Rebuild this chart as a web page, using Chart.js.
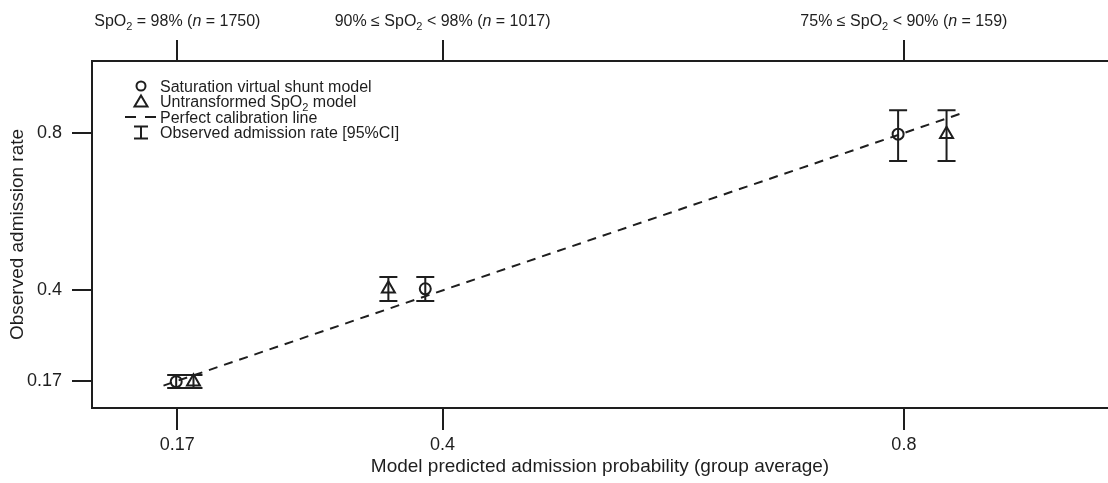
<!DOCTYPE html>
<html>
<head>
<meta charset="utf-8">
<script src="https://cdn.jsdelivr.net/npm/chart.js@4.4.0/dist/chart.umd.min.js"></script>
<style>
html, body { margin: 0; padding: 0; background: #fff; }
#wrap { width: 1108px; height: 483px; }
</style>
</head>
<body>
<div id="wrap"><canvas id="calibrationChart"></canvas></div>
<script>
// values
const tickValues = [0.17, 0.4, 0.8];
const tickLabels = ['0.17', '0.4', '0.8'];
const groupLabels = ['SpO{2} = 98% (*n* = 1750)', '90% ≤ SpO{2} < 98% (*n* = 1017)', '75% ≤ SpO{2} < 90% (*n* = 159)'];
const shuntPredicted = [0.169, 0.385, 0.795];
const untransformedPredicted = [0.184, 0.353, 0.837];
const observedRate = [0.168, 0.404, 0.797];
const ciLower = [0.152, 0.373, 0.729];
const ciUpper = [0.185, 0.434, 0.858];
const perfectLine = [0.158, 0.85];
const legendLabels = ['Saturation virtual shunt model', 'Untransformed SpO{2} model', 'Perfect calibration line', 'Observed admission rate [95%CI]'];

const ink = '#1e1e1e';
const family = '"Liberation Sans", Arial, Helvetica, sans-serif';

// small rich text helper: {..} = subscript, *..* = italic
function parseRich(s) {
    const segs = [];
    const re = /\{([^}]*)\}|\*([^*]*)\*|([^{*]+)/g;
    let m;
    while ((m = re.exec(s))) {
        if (m[1] !== undefined) segs.push({ t: m[1], sub: true });
        else if (m[2] !== undefined) segs.push({ t: m[2], it: true });
        else segs.push({ t: m[3] });
    }
    return segs;
}

function drawRich(ctx, s, x, y, size, align) {
    const segs = parseRich(s);
    const fontOf = g => (g.it ? 'italic ' : '') + (g.sub ? Math.round(size * 0.7) : size) + 'px ' + family;
    let w = 0;
    segs.forEach(g => { ctx.font = fontOf(g); g.w = ctx.measureText(g.t).width; w += g.w; });
    let cx = align === 'center' ? x - w / 2 : x;
    ctx.textAlign = 'left';
    ctx.textBaseline = 'alphabetic';
    segs.forEach(g => {
        ctx.font = fontOf(g);
        ctx.fillText(g.t, cx, g.sub ? y + size * 0.28 : y);
        cx += g.w;
    });
}

// error bars for both models
const errorBars = {
    id: 'errorBars',
    afterDatasetsDraw(chart) {
        const { ctx, scales: { x, y } } = chart;
        ctx.save();
        ctx.strokeStyle = ink;
        ctx.lineWidth = 2;
        [shuntPredicted, untransformedPredicted].forEach(xs => xs.forEach((v, i) => {
            const px = x.getPixelForValue(v);
            const lo = y.getPixelForValue(ciLower[i]);
            const hi = y.getPixelForValue(ciUpper[i]);
            ctx.beginPath();
            ctx.moveTo(px, lo); ctx.lineTo(px, hi);
            ctx.moveTo(px - 9, lo); ctx.lineTo(px + 9, lo);
            ctx.moveTo(px - 9, hi); ctx.lineTo(px + 9, hi);
            ctx.stroke();
        }));
        ctx.restore();
    }
};

// group labels above the top axis + legend box
const annotations = {
    id: 'annotations',
    afterDraw(chart) {
        const { ctx } = chart;
        const top = chart.scales.x2;
        ctx.save();
        ctx.fillStyle = ink;
        tickValues.forEach((v, i) => {
            drawRich(ctx, groupLabels[i], top.getPixelForValue(v), 26, 16, 'center');
        });

        const sx = 141, tx = 160;
        const rows = [86, 101.5, 117, 132.5];
        ctx.strokeStyle = ink;
        ctx.lineWidth = 2;
        // circle
        ctx.beginPath();
        ctx.arc(sx, rows[0], 4.5, 0, Math.PI * 2);
        ctx.stroke();
        // triangle
        ctx.beginPath();
        ctx.moveTo(sx, rows[1] - 6);
        ctx.lineTo(sx + 6.5, rows[1] + 5);
        ctx.lineTo(sx - 6.5, rows[1] + 5);
        ctx.closePath();
        ctx.stroke();
        // dashed line
        ctx.beginPath();
        ctx.setLineDash([11, 9]);
        ctx.moveTo(125, rows[2]);
        ctx.lineTo(157, rows[2]);
        ctx.stroke();
        ctx.setLineDash([]);
        // error bar
        ctx.beginPath();
        ctx.moveTo(sx, rows[3] - 6); ctx.lineTo(sx, rows[3] + 6);
        ctx.moveTo(sx - 7, rows[3] - 6); ctx.lineTo(sx + 7, rows[3] - 6);
        ctx.moveTo(sx - 7, rows[3] + 6); ctx.lineTo(sx + 7, rows[3] + 6);
        ctx.stroke();

        legendLabels.forEach((t, i) => drawRich(ctx, t, tx, rows[i] + 5.5, 16, 'left'));
        ctx.restore();
    }
};

const axisGrid = (len) => ({ drawOnChartArea: false, drawTicks: true, tickLength: len, lineWidth: 2, color: ink, tickColor: ink });
const setTicks = s => { s.ticks = tickValues.map(v => ({ value: v })); };
const tickText = v => { const i = tickValues.indexOf(v); return i >= 0 ? tickLabels[i] : ''; };
const noPad = s => { s.paddingLeft = 0; s.paddingRight = 0; s.paddingTop = 0; s.paddingBottom = 0; };

const ctx = document.getElementById('calibrationChart').getContext('2d');
new Chart(ctx, {
type: 'scatter',
data: {
    datasets: [{
        label: 'Saturation virtual shunt model',
        data: shuntPredicted.map((v, i) => ({ x: v, y: observedRate[i] })),
        pointStyle: 'circle',
        pointRadius: 5.5,
        borderWidth: 2,
        borderColor: ink,
        backgroundColor: 'rgba(0,0,0,0)'
    }, {
        label: 'Untransformed SpO2 model',
        data: untransformedPredicted.map((v, i) => ({ x: v, y: observedRate[i] })),
        pointStyle: 'triangle',
        pointRadius: 7.5,
        borderWidth: 2,
        borderColor: ink,
        backgroundColor: 'rgba(0,0,0,0)'
    }, {
        type: 'line',
        label: 'Perfect calibration line',
        data: perfectLine.map(v => ({ x: v, y: v })),
        borderColor: ink,
        borderWidth: 2,
        borderDash: [9, 7],
        pointRadius: 0,
        fill: false
    }]
},
options: {
    responsive: true,
    maintainAspectRatio: false,
    animation: false,
    layout: { padding: 0, autoPadding: false },
    scales: {
        x: {
            type: 'linear',
            position: 'bottom',
            min: 0.096,
            max: 0.977,
            afterBuildTicks: setTicks,
            afterFit: s => { s.height = 75; noPad(s); },
            grid: axisGrid(22),
            border: { display: true, color: ink, width: 2 },
            ticks: { callback: tickText, font: { size: 18, family: family }, color: ink, padding: 4, maxRotation: 0, autoSkip: false },
            title: {
                display: true,
                text: 'Model predicted admission probability (group average)',
                font: { size: 19, family: family },
                color: ink,
                padding: { top: 0, bottom: 5 }
            }
        },
        x2: {
            type: 'linear',
            axis: 'x',
            position: 'top',
            min: 0.096,
            max: 0.977,
            afterBuildTicks: setTicks,
            afterFit: s => { s.height = 61; noPad(s); },
            grid: axisGrid(21),
            border: { display: true, color: ink, width: 2 },
            ticks: { display: false }
        },
        y: {
            type: 'linear',
            min: 0.101,
            max: 0.983,
            afterBuildTicks: setTicks,
            afterFit: s => { s.width = 92; noPad(s); },
            grid: axisGrid(20),
            border: { display: true, color: ink, width: 2 },
            ticks: { callback: tickText, font: { size: 18, family: family }, color: ink, padding: 10, autoSkip: false },
            title: {
                display: true,
                text: 'Observed admission rate',
                font: { size: 19, family: family },
                color: ink,
                padding: { top: 6, bottom: 0 }
            }
        }
    },
    plugins: {
        legend: { display: false },
        tooltip: { enabled: false }
    }
},
plugins: [errorBars, annotations]
});
</script>
</body>
</html>
